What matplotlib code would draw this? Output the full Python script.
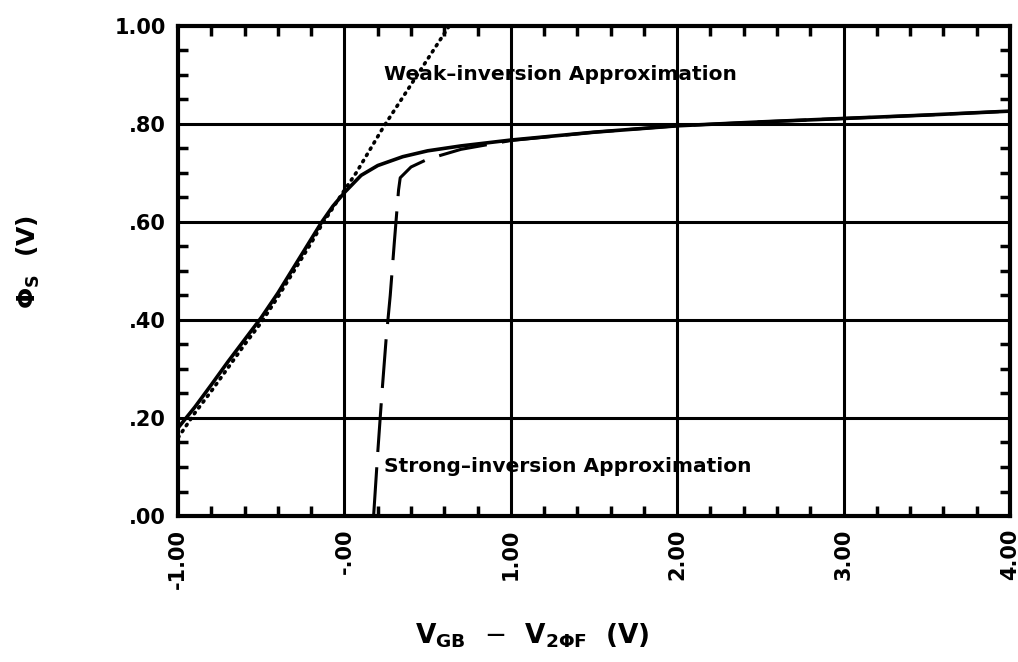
import matplotlib.pyplot as plt
from matplotlib.ticker import MultipleLocator, FixedLocator

# exact surface potential
v_exact = [-1.00, -0.90, -0.80, -0.70, -0.60, -0.50, -0.40, -0.30, -0.20, -0.14, -0.07, 0.00, 0.10, 0.20, 0.35, 0.50, 0.70, 1.00, 1.50, 2.00, 2.50, 3.00, 3.50, 4.00]
phi_exact = [0.18, 0.222, 0.268, 0.315, 0.36, 0.405, 0.455, 0.51, 0.565, 0.598, 0.632, 0.66, 0.695, 0.715, 0.733, 0.745, 0.755, 0.767, 0.783, 0.796, 0.804, 0.811, 0.818, 0.826]

# weak-inversion approximation
v_weak = [-1.00, -0.95, -0.90, -0.80, -0.60, -0.50, -0.40, -0.30, -0.20, -0.14, 0.00, 0.07, 0.235, 0.40, 0.63]
phi_weak = [0.16, 0.185, 0.21, 0.255, 0.35, 0.395, 0.447, 0.502, 0.557, 0.592, 0.665, 0.70, 0.794, 0.88, 1.00]

# strong-inversion approximation
v_strong = [0.175, 0.20, 0.225, 0.25, 0.275, 0.30, 0.325, 0.335, 0.40, 0.50, 0.70, 1.00, 1.50, 2.00, 2.50, 3.00, 3.50, 4.00]
phi_strong = [0.00, 0.13, 0.25, 0.36, 0.45, 0.56, 0.665, 0.69, 0.712, 0.728, 0.748, 0.766, 0.783, 0.796, 0.804, 0.811, 0.818, 0.826]

x_ticks = [-1, 0, 1, 2, 3, 4]
x_labels = ["-1.00", "-.00", "1.00", "2.00", "3.00", "4.00"]
y_ticks = [0.0, 0.2, 0.4, 0.6, 0.8, 1.0]
y_labels = [".00", ".20", ".40", ".60", ".80", "1.00"]

fig = plt.figure(figsize=(10.18, 6.62), dpi=100)
ax = fig.add_axes([0.175, 0.2205, 0.817, 0.7405])

ax.plot(v_exact, phi_exact, color="black", lw=2.6, solid_capstyle="round", solid_joinstyle="round")
ax.plot(v_weak, phi_weak, color="black", lw=2.6, linestyle=(0, (0.4, 1.6)), dash_capstyle="round")
ax.plot(v_strong, phi_strong, color="black", lw=2.2, linestyle=(0, (16, 5)))

ax.set_xlim(-1, 4)
ax.set_ylim(0, 1)

# grid at the major divisions only
for x in [0, 1, 2, 3]:
    ax.axvline(x, color="black", lw=2.2, zorder=1)
for y in [0.2, 0.4, 0.6, 0.8]:
    ax.axhline(y, color="black", lw=2.2, zorder=1)

for s in ax.spines.values():
    s.set_linewidth(3)

ax.xaxis.set_major_locator(FixedLocator(x_ticks))
ax.set_xticklabels(x_labels, rotation=90, fontsize=15, fontweight="bold")
ax.yaxis.set_major_locator(FixedLocator(y_ticks))
ax.set_yticklabels(y_labels, fontsize=15, fontweight="bold")
ax.xaxis.set_minor_locator(MultipleLocator(0.2))
ax.yaxis.set_minor_locator(MultipleLocator(0.05))
ax.tick_params(which="both", direction="in", top=True, right=True, width=2.5)
ax.tick_params(which="major", length=0, pad=9)
ax.tick_params(which="minor", length=7)

ax.text(0.235, 0.90, "Weak\u2013inversion Approximation", fontsize=14.5, fontweight="bold", va="center")
ax.text(0.24, 0.102, "Strong\u2013inversion Approximation", fontsize=14.5, fontweight="bold", va="center")

fig.text(0.028, 0.604, r"$\mathbf{\Phi_S}$  (V)", rotation=90, fontsize=18, fontweight="bold", va="center", ha="center")
fig.text(0.523, 0.04, r"$\mathbf{V_{GB}}$  $-$  $\mathbf{V_{2\Phi F}}$  (V)", fontsize=19, fontweight="bold", ha="center", va="center")

fig.savefig("out.png", dpi=100)
